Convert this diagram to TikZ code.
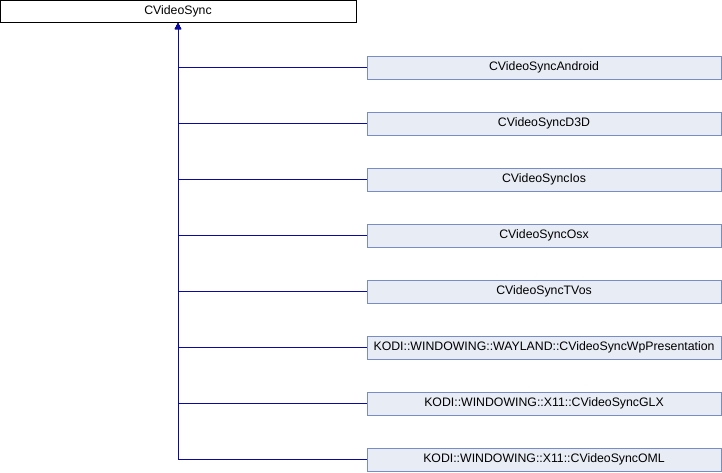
\documentclass[tikz,border=0pt]{standalone}
\usepackage{fontspec}
\setmainfont{Liberation Sans}
\usetikzlibrary{arrows.meta}
\definecolor{edgeblue}{HTML}{0A0AA0}
\definecolor{childfill}{HTML}{E8ECF5}
\definecolor{childdraw}{HTML}{7A8CC8}
\begin{document}
\begin{tikzpicture}[x=1pt,y=-1pt,
  basebox/.style={draw=black, fill=white, line width=1pt, inner sep=0pt,
    minimum width=356pt, minimum height=22pt,
    font=\fontsize{12.3}{14}\selectfont},
  childbox/.style={draw=childdraw, fill=childfill, line width=1pt, inner sep=0pt,
    minimum width=354pt, minimum height=23pt,
    font=\fontsize{12.3}{14}\selectfont},
  inherit/.style={draw=edgeblue, line width=1pt, {Triangle[length=6pt,width=6pt]}-}]
\useasboundingbox (0,0) rectangle (722,472);
\node[basebox] (base) at (178,11.5) {CVideoSync};
\node[childbox] (c1) at (544,67.5) {CVideoSyncAndroid};
\node[childbox] (c2) at (544,123.5) {CVideoSyncD3D};
\node[childbox] (c3) at (544,179.5) {CVideoSyncIos};
\node[childbox] (c4) at (544,235.5) {CVideoSyncOsx};
\node[childbox] (c5) at (544,291.5) {CVideoSyncTVos};
\node[childbox] (c6) at (544,347.5) {KODI::WINDOWING::WAYLAND::CVideoSyncWpPresentation};
\node[childbox] (c7) at (544,403.5) {KODI::WINDOWING::X11::CVideoSyncGLX};
\node[childbox] (c8) at (544,459.5) {KODI::WINDOWING::X11::CVideoSyncOML};
\foreach \c in {c1,c2,c3,c4,c5,c6,c7,c8}
  \draw[inherit] (base.south) |- (\c.west);
\end{tikzpicture}
\end{document}
